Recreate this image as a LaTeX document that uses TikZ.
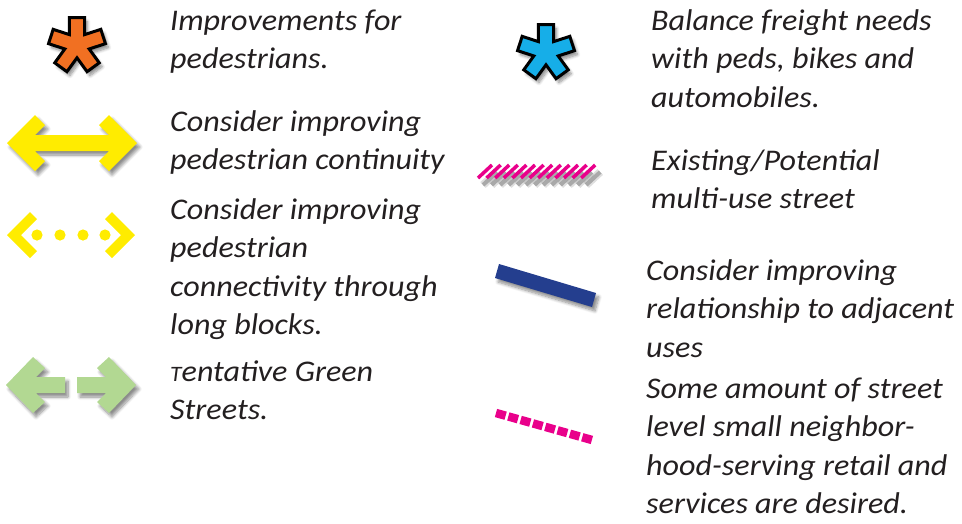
\documentclass[tikz,border=0pt]{standalone}
\usepackage{fontspec}
\setmainfont{Carlito}[FakeStretch=1.07]
\usetikzlibrary{shadows.blur}
\definecolor{legorange}{RGB}{241,112,34}
\definecolor{legcyan}{RGB}{22,174,232}
\definecolor{legyellow}{RGB}{255,236,0}
\definecolor{leggreen}{RGB}{178,216,146}
\definecolor{legpink}{RGB}{233,0,139}
\definecolor{legnavy}{RGB}{36,62,142}
\definecolor{legink}{RGB}{35,31,32}

\tikzset{
  legtext/.style={anchor=base west, align=left, inner sep=0pt, text=legink,
    font=\fontsize{30}{38.5}\selectfont\itshape},
  softshadow/.style={blur shadow={shadow xshift=3pt, shadow yshift=-4pt,
    shadow blur radius=3pt, shadow blur steps=8, shadow opacity=45}},
}

% five-armed asterisk: centre, fill colour
\newcommand{\legasterisk}[2]{%
  \filldraw[shift={#1}, fill=#2, draw=black, line width=3pt, line join=miter, softshadow]
    (54:12.8pt) \foreach \t in {90,162,234,306,378} {
      -- (\t-15.3:28.5pt) -- (\t+15.3:28.5pt) -- (\t+36:12.8pt)
    } -- cycle;
}

\begin{document}
\begin{tikzpicture}[x=1pt,y=-1pt]
\useasboundingbox (0,0) rectangle (962,523);

% Pedestrian improvements (text nodes sit on their last baseline)
\legasterisk{(77,45)}{legorange}
\node[legtext] (pedtxt) at (170,68.5) {Improvements for\\pedestrians.};

% Pedestrian continuity
\fill[legyellow, softshadow] (7,143) -- (35,115) -- (45,125) -- (35,135) -- (109,135)
  -- (99,125) -- (109,115) -- (137,143) -- (109,171) -- (99,161) -- (109,151)
  -- (35,151) -- (45,161) -- (35,171) -- cycle;
\node[legtext] (conttxt) at (170,169.5) {Consider improving\\pedestrian continuity};

% Connectivity through long blocks
\fill[legyellow] (7,235) -- (30,212) -- (37,219) -- (21,235) -- (37,251) -- (30,258) -- cycle;
\fill[legyellow] (135,235) -- (112,212) -- (105,219) -- (121,235) -- (105,251) -- (112,258) -- cycle;
\foreach \x in {37,60,83,105}
  \fill[legyellow] (\x,235) circle (5.6pt);
\node[legtext] (blocktxt) at (170,334.5) {Consider improving\\pedestrian\\connectivity through\\long blocks.};

% Green streets
\fill[leggreen, softshadow] (6,385) -- (33,357) -- (45,368) -- (36,377) -- (65,377)
  -- (65,393) -- (36,393) -- (45,402) -- (33,413) -- cycle;
\fill[leggreen, softshadow] (136,385) -- (109,357) -- (97,368) -- (106,377) -- (77,377)
  -- (77,393) -- (106,393) -- (97,402) -- (109,413) -- cycle;
\node[legtext] (greentxt) at (170,419.5) {{\fontsize{22}{22}\selectfont T}entative Green\\Streets.};

% Freight balance
\legasterisk{(546,52)}{legcyan}
\node[legtext] (freighttxt) at (651,107) {Balance freight needs\\with peds, bikes and\\automobiles.};

% Multi-use street
\foreach \i in {0,...,12} {
  \draw[gray, opacity=.25, line width=8pt] (483+8.6*\i,185) -- (497+8.6*\i,172);
  \draw[gray!80!black, opacity=.45, line width=4pt] (483+8.6*\i,185) -- (497+8.6*\i,172);
}
\foreach \i in {0,...,12}
  \draw[legpink, line width=3.5pt] (478+8.6*\i,178) -- (492+8.6*\i,165);
\node[legtext] (multitxt) at (651,208.5) {Existing/Potential\\multi-use street};

% Adjacent uses
\fill[legnavy, softshadow] (499,264) -- (596,293) -- (592,307) -- (495,278) -- cycle;
\node[legtext] (adjtxt) at (646,357) {Consider improving\\relationship to adjacent\\uses};

% Street level retail
\draw[legpink, line width=8.5pt, dash pattern=on 10pt off 2.8pt] (496,413) -- (592,440);
\node[legtext] (retailtxt) at (646,513.5) {Some amount of street\\level small neighbor-\\hood-serving retail and\\services are desired.};
\end{tikzpicture}
\end{document}
